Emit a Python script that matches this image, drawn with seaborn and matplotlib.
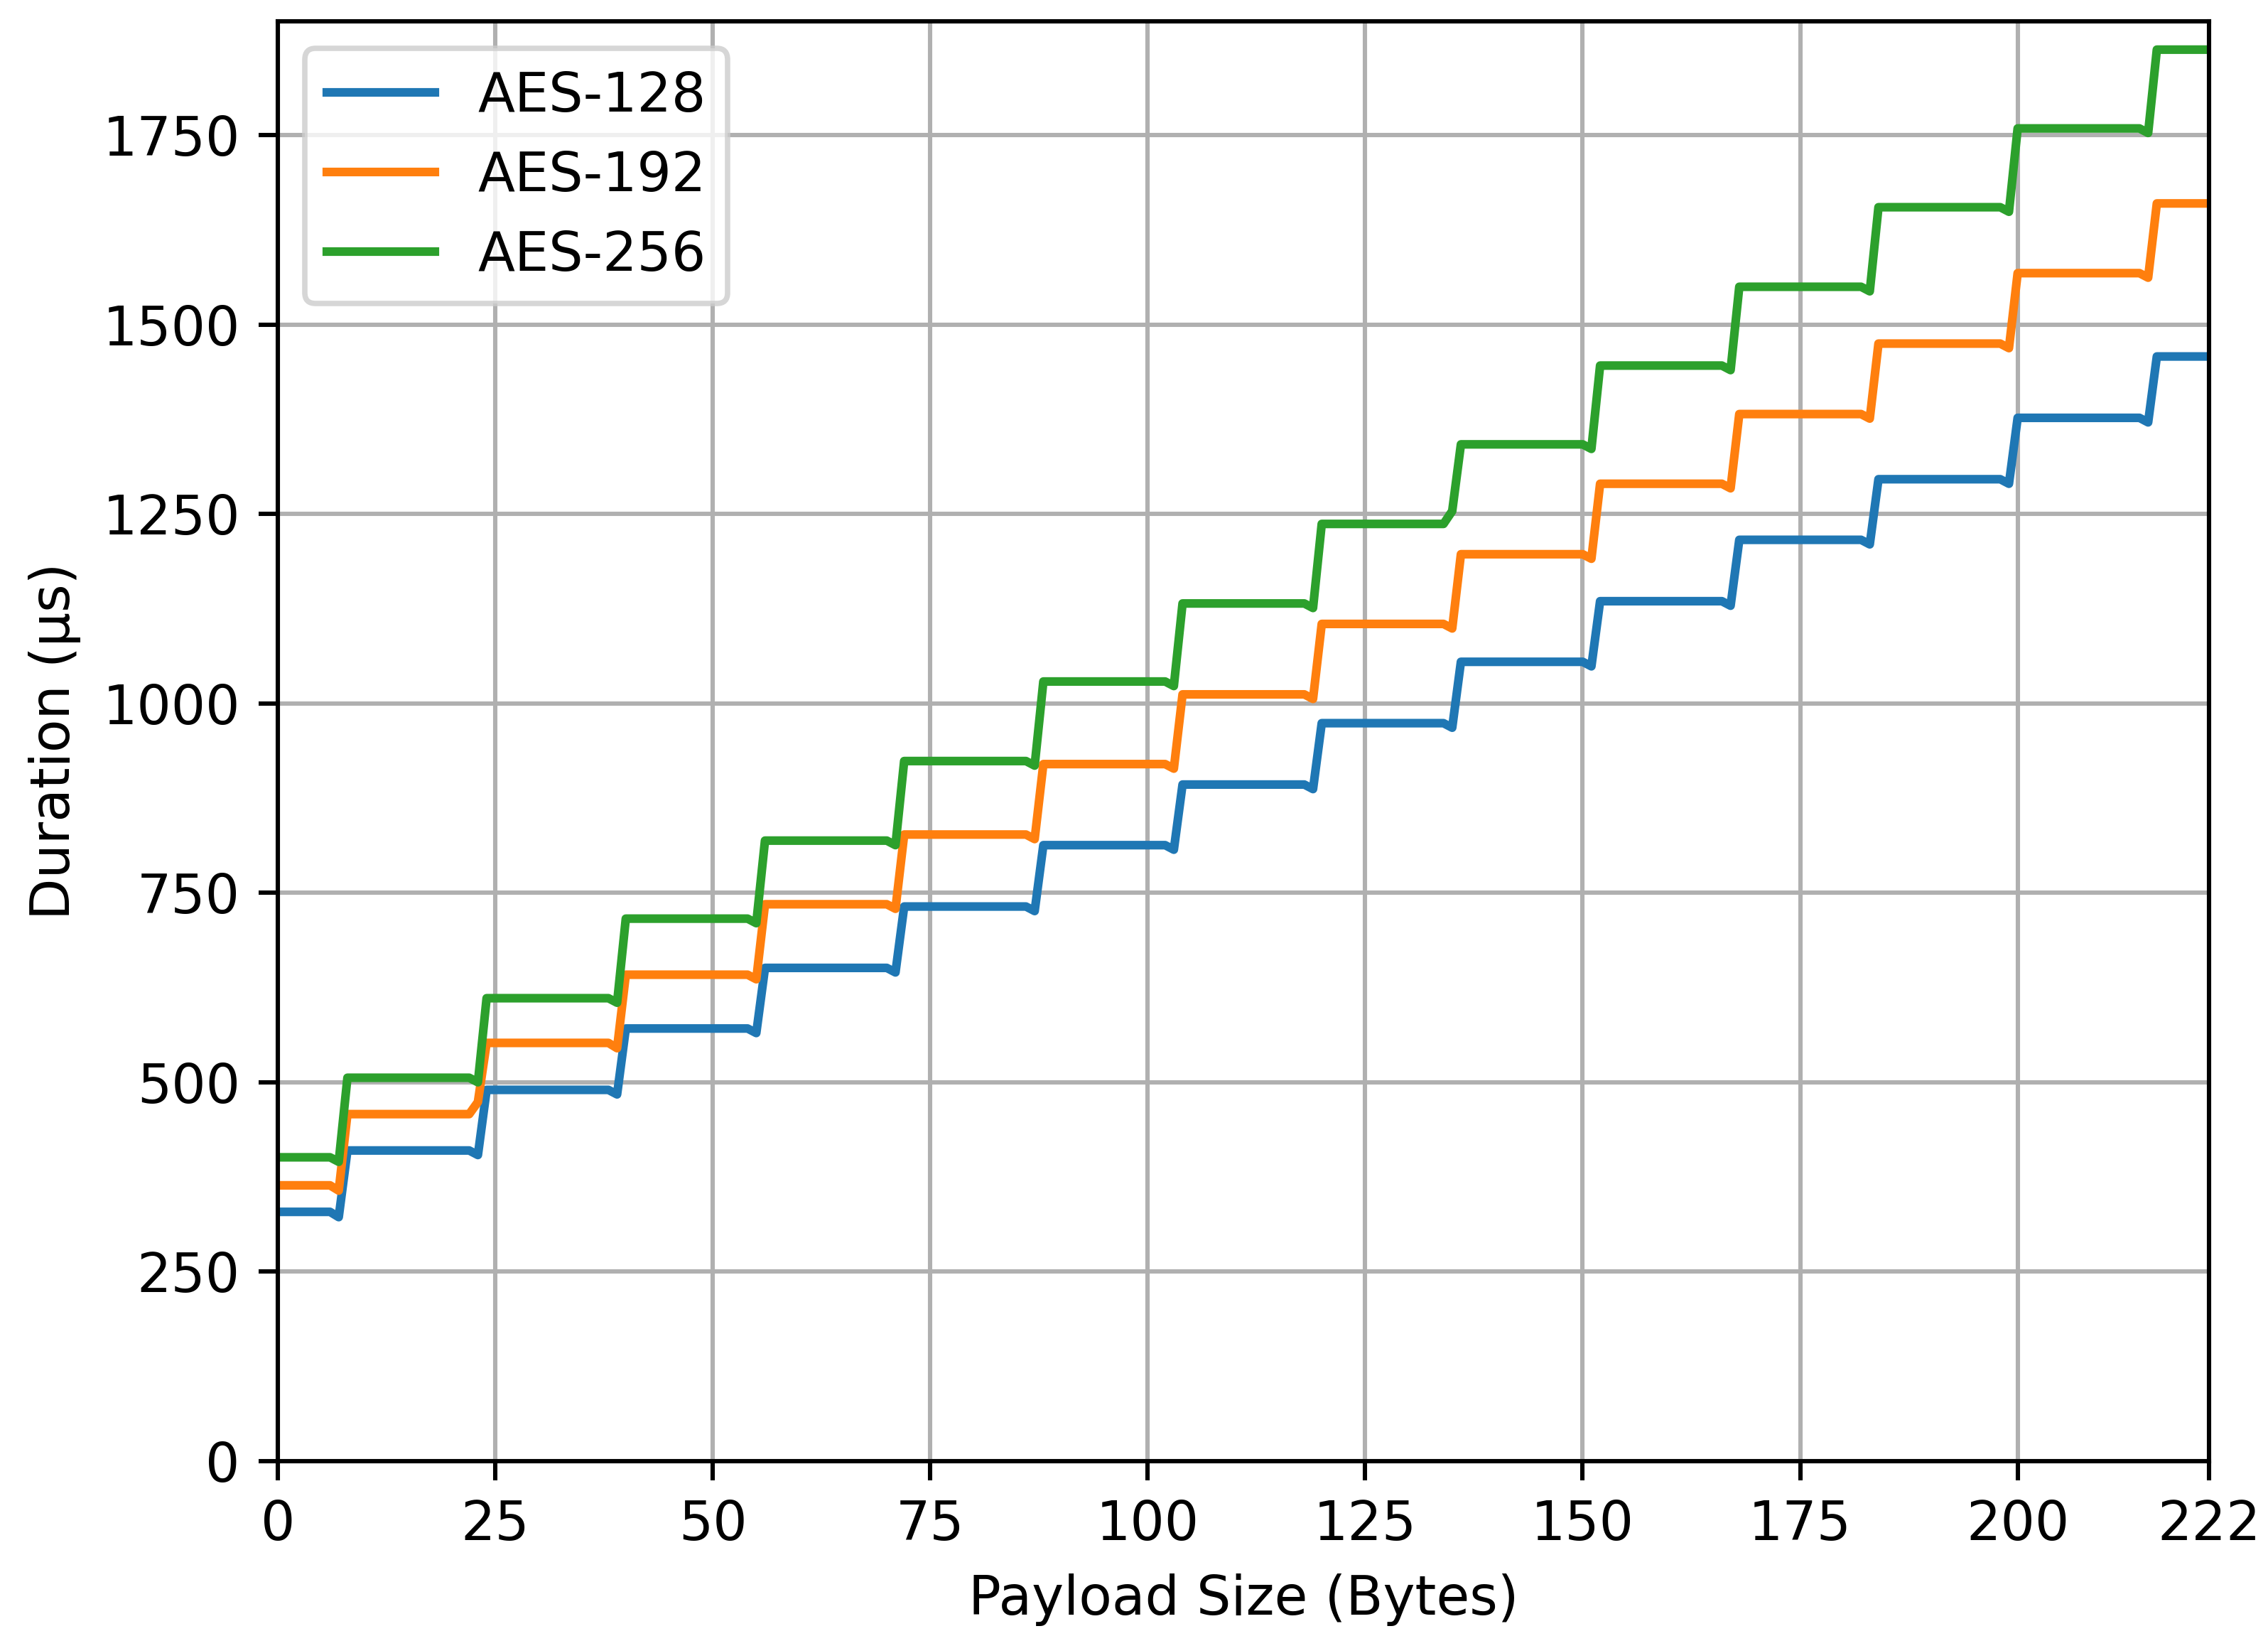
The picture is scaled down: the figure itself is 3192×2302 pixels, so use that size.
import pandas as pd
import matplotlib
matplotlib.use("Agg")
import matplotlib.pyplot as plt
import seaborn as sns

## block boundaries (payload size where a new 16-byte block starts)
block_start = [0, 8, 24, 40, 56, 72, 88, 104, 120, 136, 152, 168, 184, 200, 216]
last_size = 222

## plateau level of every block (us)
aes128_level = [329, 410, 490, 571, 651, 732, 813, 893, 974, 1055, 1135, 1216, 1296, 1377, 1458]
aes192_level = [364, 458, 552, 642, 735, 827, 920, 1012, 1105, 1197, 1290, 1382, 1475, 1568, 1660]
aes256_level = [401, 506, 611, 716, 819, 924, 1029, 1132, 1237, 1342, 1446, 1550, 1655, 1759, 1863]

## value at the last byte before each jump (small dip)
aes128_dip = [322, 404, 484, 565, 645, 726, 807, 887, 968, 1049, 1129, 1210, 1290, 1371]
aes192_dip = [357, 474, 545, 636, 729, 821, 914, 1006, 1099, 1191, 1284, 1376, 1469, 1562]
aes256_dip = [395, 500, 605, 710, 813, 918, 1023, 1126, 1254, 1336, 1440, 1544, 1649, 1753]

series = {"AES-128": (aes128_level, aes128_dip),
          "AES-192": (aes192_level, aes192_dip),
          "AES-256": (aes256_level, aes256_dip)}

rows = []
for name, (level, dip) in series.items():
    for k, start in enumerate(block_start):
        if k < len(dip):
            end = block_start[k + 1] - 1
            rows.append((name, start, level[k]))
            rows.append((name, end - 1, level[k]))
            rows.append((name, end, dip[k]))
        else:
            rows.append((name, start, level[k]))
            rows.append((name, last_size, level[k]))
df = pd.DataFrame(rows, columns=["Algorithm", "Payload", "Duration"])

fig = plt.figure(figsize=(3192 / 548, 2302 / 548), dpi=548)
ax = fig.add_axes([0.1225, 0.1069, 0.974 - 0.1225, 0.9868 - 0.1069])

sns.lineplot(data=df, x="Payload", y="Duration", hue="Algorithm",
             linewidth=1.6, ax=ax)

ax.set_xlim(0, 222)
ax.set_ylim(0, 1900)
ax.set_xticks([0, 25, 50, 75, 100, 125, 150, 175, 200, 222])
ax.set_xlabel("Payload Size (Bytes)")
ax.set_ylabel("Duration (µs)")
ax.grid(True)
sns.move_legend(ax, "upper left", title=None)

fig.savefig("out.png", dpi=548)
